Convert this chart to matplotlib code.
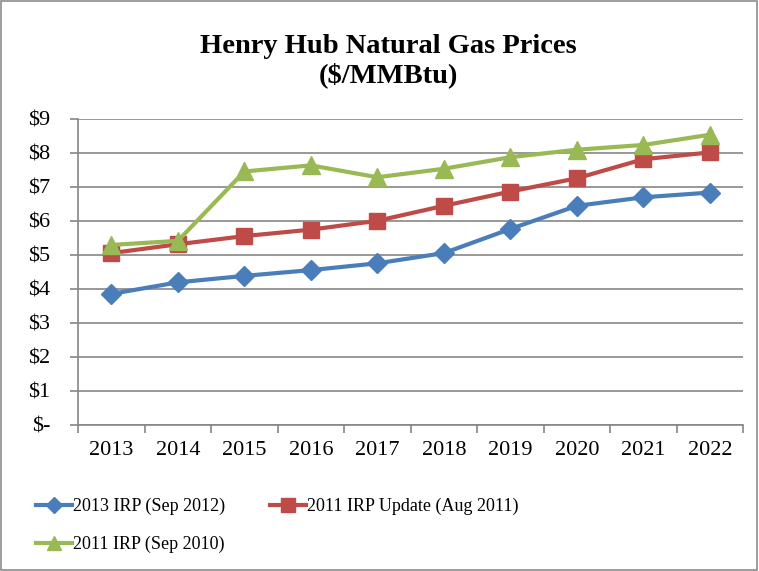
import numpy as np
import matplotlib
matplotlib.use('Agg')
import matplotlib.pyplot as plt
from matplotlib.patches import Rectangle

years = ['2013', '2014', '2015', '2016', '2017', '2018', '2019', '2020', '2021', '2022']
irp_2013 = [3.85, 4.19, 4.38, 4.55, 4.75, 5.05, 5.76, 6.44, 6.69, 6.83]
irp_2011_update = [5.05, 5.31, 5.55, 5.74, 6.00, 6.44, 6.86, 7.25, 7.81, 8.01]
irp_2011 = [5.29, 5.41, 7.45, 7.63, 7.28, 7.53, 7.87, 8.09, 8.23, 8.53]
y_ticks = [0, 1, 2, 3, 4, 5, 6, 7, 8, 9]
y_labels = ['$-', '$1', '$2', '$3', '$4', '$5', '$6', '$7', '$8', '$9']

plt.rcParams['font.family'] = ['Liberation Serif', 'DejaVu Serif']
plt.rcParams['text.parse_math'] = False

fig = plt.figure(figsize=(7.59, 5.71), dpi=100)
fig.patches.append(Rectangle((0.001, 0.001), 0.997, 0.997, transform=fig.transFigure,
                             fill=False, edgecolor='#8c8c8c', linewidth=1.2))

ax = fig.add_axes([0.103, 0.256, 0.876, 0.536])
x = np.arange(len(years))

l1, = ax.plot(x, irp_2013, color='#4A7EBB', lw=3, marker='D', ms=10, label='2013 IRP (Sep 2012)')
l2, = ax.plot(x, irp_2011_update, color='#BE4B48', lw=3, marker='s', ms=12, label='2011 IRP Update (Aug 2011)')
l3, = ax.plot(x, irp_2011, color='#98B954', lw=3, marker='^', ms=13, label='2011 IRP (Sep 2010)')

ax.set_xlim(-0.5, len(years) - 0.5)
ax.set_ylim(0, 9)
ax.set_yticks(y_ticks)
ax.set_yticklabels(y_labels, fontsize=16)
ax.set_xticks(x)
ax.set_xticklabels(years, fontsize=16)
ax.set_xticks(np.arange(-0.5, len(years)), minor=True)
ax.tick_params(axis='x', which='major', length=0, pad=12)
ax.tick_params(axis='x', which='minor', length=6, color='#868686', width=1.2)
ax.tick_params(axis='y', length=6, color='#868686', width=1.2, pad=14)
ax.yaxis.grid(True, color='#868686', lw=1.2)
ax.set_axisbelow(True)
for s in ['top', 'right']:
    ax.spines[s].set_visible(False)
for s in ['left', 'bottom']:
    ax.spines[s].set_color('#868686')
    ax.spines[s].set_linewidth(1.2)

fig.text(0.512, 0.893, 'Henry Hub Natural Gas Prices\n($/MMBtu)', ha='center', va='center',
         fontsize=20.5, fontweight='bold', linespacing=1.15)

fig.legend([l1, l3, l2], [l1.get_label(), l3.get_label(), l2.get_label()],
           loc='upper left', bbox_to_anchor=(0.047, 0.128), ncol=2, frameon=False,
           fontsize=13, handlelength=2.0, handletextpad=0.05, columnspacing=2.5,
           labelspacing=1.15, borderaxespad=0, borderpad=0, markerscale=0.8)

fig.savefig('out.png', dpi=100)
